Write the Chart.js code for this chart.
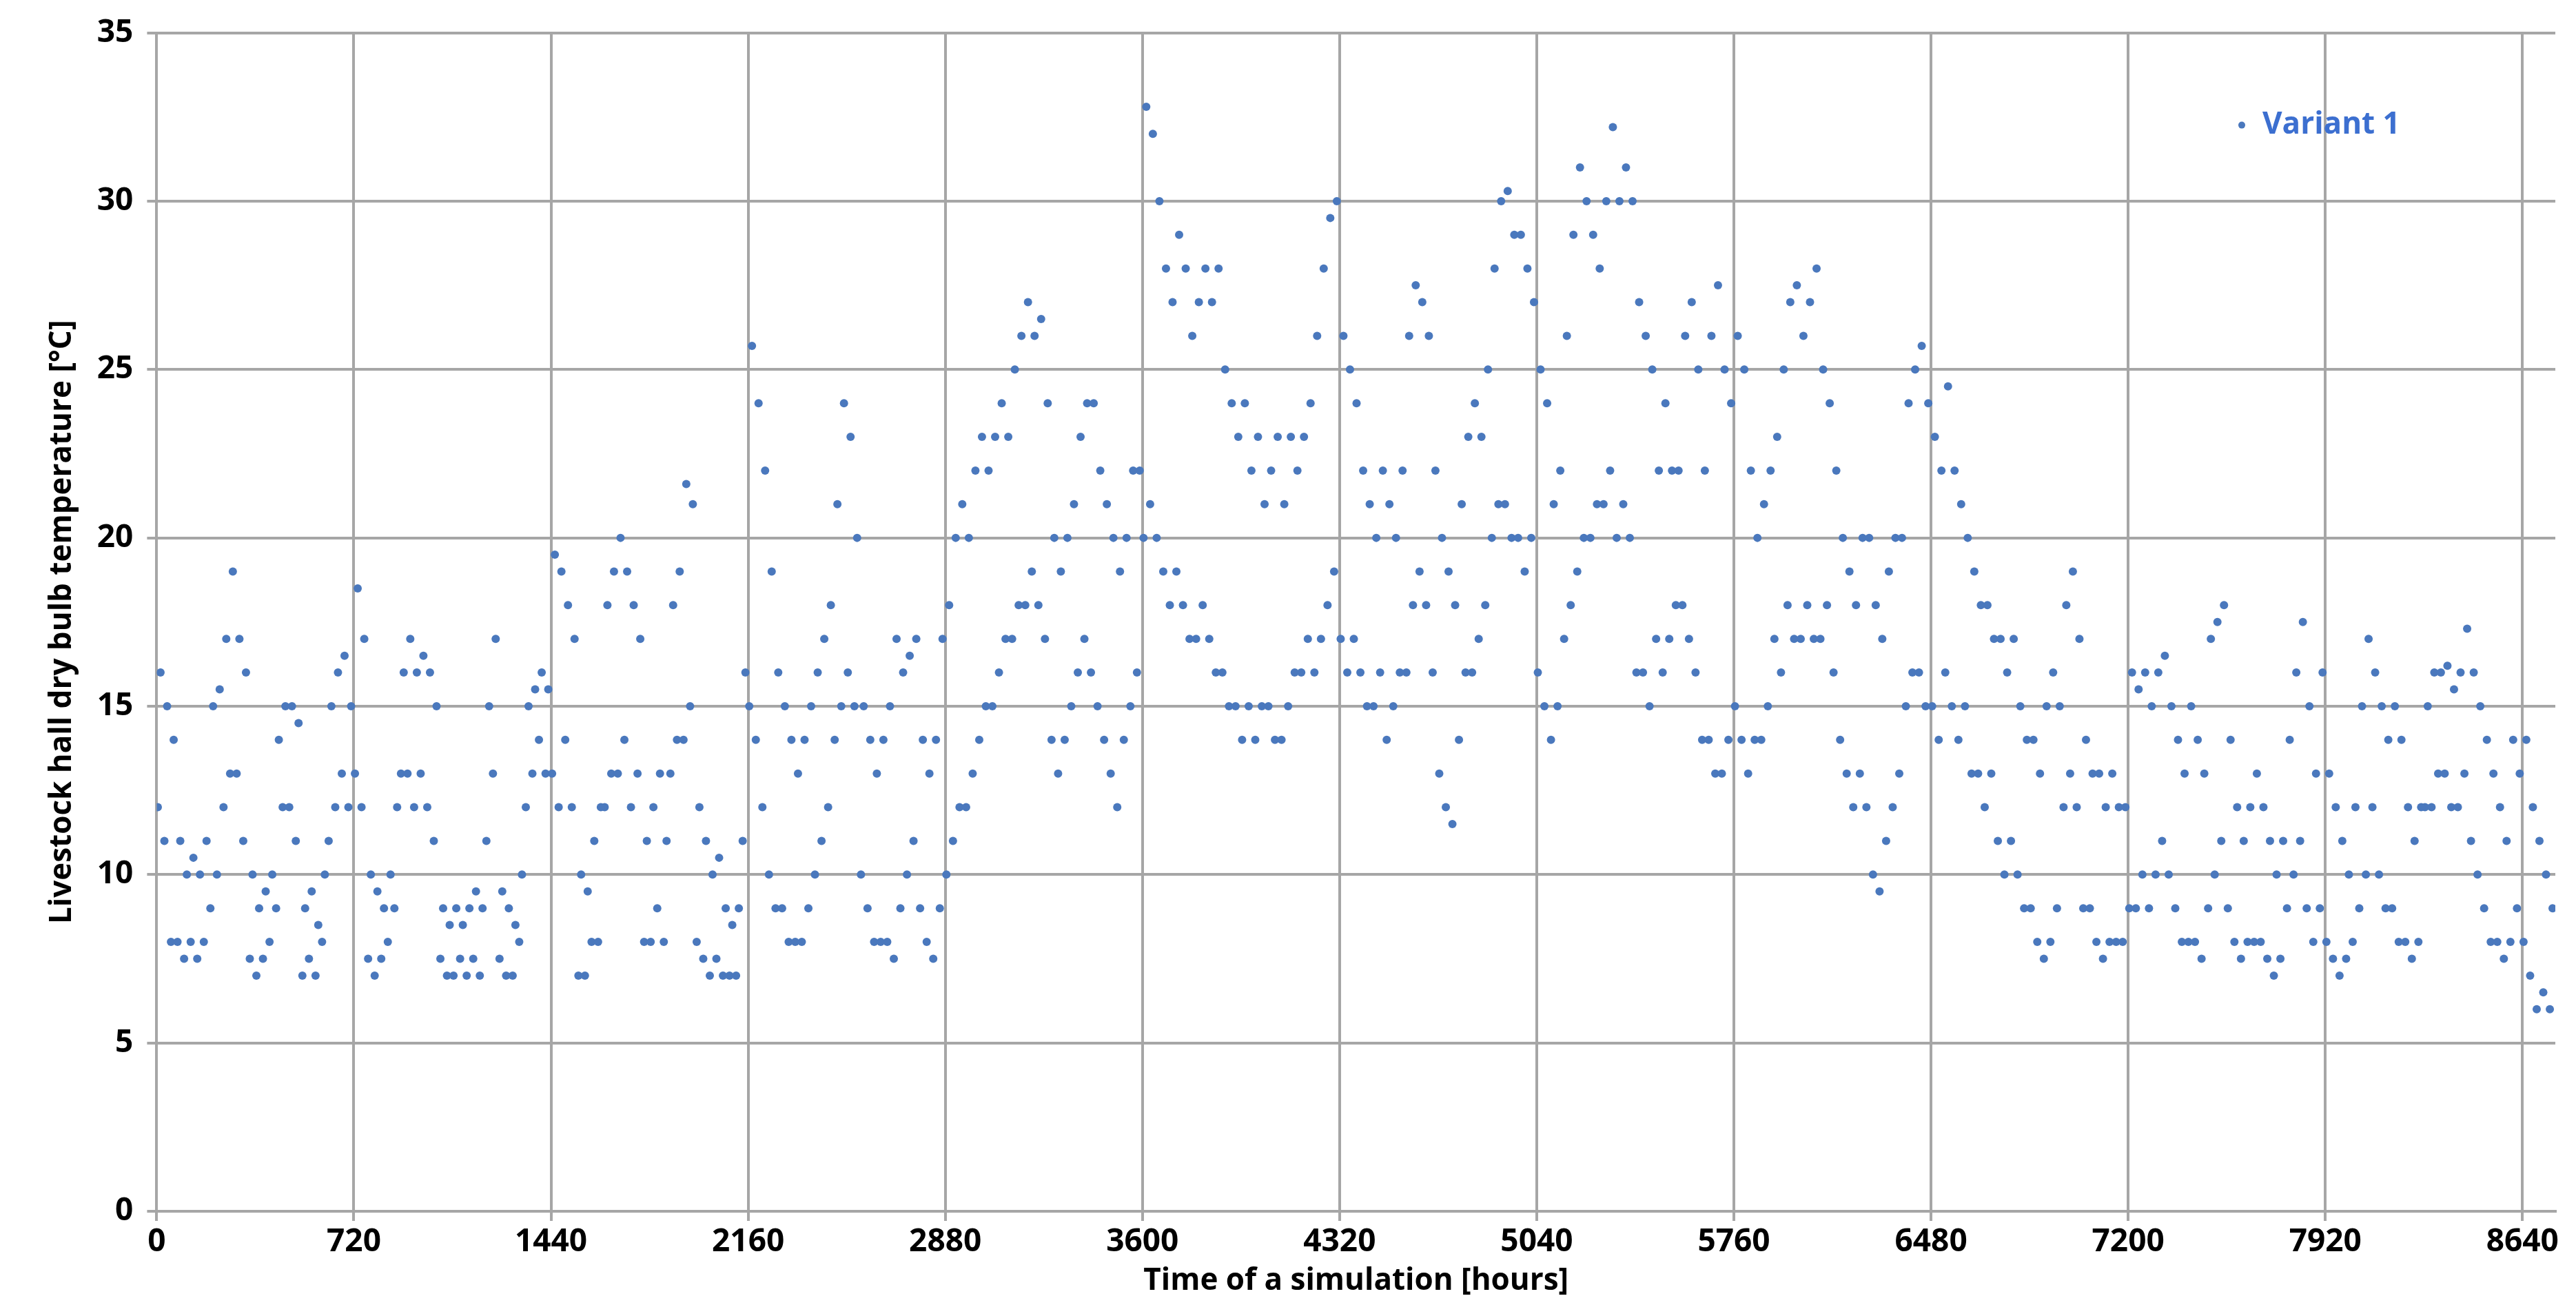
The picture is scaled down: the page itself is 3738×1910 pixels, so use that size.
<!DOCTYPE html>
<html><head><meta charset="utf-8">
<script src="https://cdn.jsdelivr.net/npm/chart.js@4"></script>
<style>html,body{margin:0;background:#fff}#w{width:3738px;height:1910px}</style>
</head><body><div id="w"><canvas id="c"></canvas></div>
<script>
const xTicks=[0,720,1440,2160,2880,3600,4320,5040,5760,6480,7200,7920,8640];
const seriesName='Variant 1';
const dailyLow=[12,11,8,8,7.5,8,7.5,8,9,10,
12,13,13,11,7.5,7,7.5,8,9,12,
12,11,7,7.5,7,8,11,12,13,12,
13,12,7.5,7,7.5,8,9,13,13,12,
13,12,11,7.5,7,7,7.5,7,7.5,7,
11,13,7.5,7,7,8,12,13,14,13,
13,12,14,12,7,7,8,8,12,13,
13,14,12,13,8,8,9,8,13,14,
14,15,8,7.5,7,7.5,7,7,7,11,
15,14,12,10,9,9,8,8,8,9,
10,11,12,14,15,16,15,10,9,8,
8,8,7.5,9,10,11,9,8,7.5,9,
10,11,12,12,13,14,15,15,16,17,
17,18,18,19,18,17,14,13,14,15,
16,17,16,15,14,13,12,14,15,16,
20,21,20,19,18,19,18,17,17,18,
17,16,16,15,15,14,15,14,15,15,
14,14,15,16,16,17,16,17,18,19,
17,16,17,16,15,15,16,14,15,16,
16,18,19,18,16,13,12,11.5,14,16,
16,17,18,20,21,21,20,20,19,20,
16,15,14,15,17,18,19,20,20,21,
21,22,20,21,20,16,16,15,17,16,
17,18,18,17,16,14,14,13,13,14,
15,14,13,14,14,15,17,16,18,17,
17,18,17,17,18,16,14,13,12,13,
12,10,9.5,11,12,13,15,16,16,15,
15,14,16,15,14,15,13,13,12,13,
11,10,11,10,9,9,8,7.5,8,9,
12,13,12,9,9,8,7.5,8,8,8,
9,9,10,9,10,11,10,9,8,8,
8,7.5,9,10,11,9,8,7.5,8,8,
8,7.5,7,7.5,9,10,11,9,8,9,
8,7.5,7,7.5,8,9,10,12,10,9,
9,8,8,7.5,8,12,12,13,13,12,
12,13,11,10,9,8,8,7.5,8,9,
8,7,6,6.5,6];
const dailyHigh=[16,15,14,11,10,10.5,10,11,15,15.5,
17,19,17,16,10,9,9.5,10,14,15,
15,14.5,9,9.5,8.5,10,15,16,16.5,15,
18.5,17,10,9.5,9,10,12,16,17,16,
16.5,16,15,9,8.5,9,8.5,9,9.5,9,
15,17,9.5,9,8.5,10,15,15.5,16,15.5,
19.5,19,18,17,10,9.5,11,12,18,19,
20,19,18,17,11,12,13,11,18,19,
21.6,21,12,11,10,10.5,9,8.5,9,16,
25.7,24,22,19,16,15,14,13,14,15,
16,17,18,21,24,23,20,15,14,13,
14,15,17,16,16.5,17,14,13,14,17,
18,20,21,20,22,23,22,23,24,23,
25,26,27,26,26.5,24,20,19,20,21,
23,24,24,22,21,20,19,20,22,22,
32.8,32,30,28,27,29,28,26,27,28,
27,28,25,24,23,24,22,23,21,22,
23,21,23,22,23,24,26,28,29.5,30,
26,25,24,22,21,20,22,21,20,22,
26,27.5,27,26,22,20,19,18,21,23,
24,23,25,28,30,30.3,29,29,28,27,
25,24,21,22,26,29,31,30,29,28,
30,32.2,30,31,30,27,26,25,22,24,
22,22,26,27,25,22,26,27.5,25,24,
26,25,22,20,21,22,23,25,27,27.5,
26,27,28,25,24,22,20,19,18,20,
20,18,17,19,20,20,24,25,25.7,24,
23,22,24.5,22,21,20,19,18,18,17,
17,16,17,15,14,14,13,15,16,15,
18,19,17,14,13,13,12,13,12,12,
16,15.5,16,15,16,16.5,15,14,13,15,
14,13,17,17.5,18,14,12,11,12,13,
12,11,10,11,14,16,17.5,15,13,16,
13,12,11,10,12,15,17,16,15,14,
15,14,12,11,12,15,16,16,16.2,15.5,
16,17.3,16,15,14,13,12,11,14,13,
14,12,11,10,9];
const pts=[];
dailyLow.forEach((v,d)=>pts.push({x:d*24+4,y:v}));
dailyHigh.forEach((v,d)=>pts.push({x:d*24+14,y:v}));
const F="'Open Sans', 'Liberation Sans', sans-serif";
const COL='#4a78bd';
const legendPlugin={id:'lg',afterDraw(c){
 const a=c.chartArea,ctx=c.ctx;ctx.save();
 const y=a.top+134;
 ctx.fillStyle=COL;ctx.beginPath();ctx.arc(a.right-455,y,5,0,Math.PI*2);ctx.fill();
 ctx.fillStyle='#3c6fd0';ctx.font="bold 44px "+F;ctx.textBaseline='middle';
 ctx.fillText(seriesName,a.right-425,y);ctx.restore();}};
new Chart(document.getElementById('c'),{
 type:'scatter',
 data:{datasets:[{label:seriesName,data:pts,backgroundColor:COL,borderColor:COL,pointRadius:6,pointBorderWidth:0}]},
 options:{responsive:true,maintainAspectRatio:false,animation:false,
  layout:{padding:{left:60,right:30,top:45,bottom:20}},
  plugins:{tooltip:{enabled:false},legend:{display:false}},
  scales:{
   x:{type:'linear',min:0,max:8760,
    afterBuildTicks:s=>{s.ticks=xTicks.map(v=>({value:v}));},
    grid:{color:'#a6a6a6',lineWidth:4,tickLength:14},border:{color:'#a6a6a6',width:4},
    ticks:{color:'#000',font:{family:F,size:46,weight:'bold'},maxRotation:0,autoSkip:false,callback:v=>String(v)},
    title:{display:true,text:'Time of a simulation [hours]',color:'#000',font:{family:F,size:44,weight:'bold'},padding:{top:0}}},
   y:{min:0,max:35,ticks:{stepSize:5,color:'#000',font:{family:F,size:46,weight:'bold'},padding:20},
    grid:{color:'#a6a6a6',lineWidth:4,tickLength:14},border:{color:'#a6a6a6',width:4},
    title:{display:true,text:'Livestock hall dry bulb temperature [°C]',color:'#000',font:{family:F,size:44,weight:'bold'}}}
  }},
 plugins:[legendPlugin]
});
</script></body></html>
